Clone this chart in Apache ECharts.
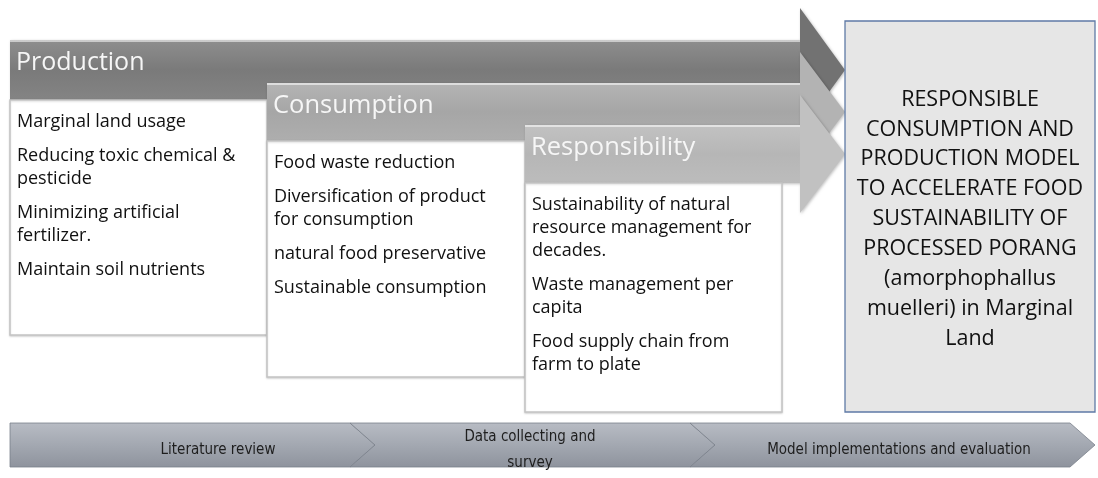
<!DOCTYPE html>
<html>
<head>
<meta charset="utf-8">
<script src="https://cdn.jsdelivr.net/npm/echarts@6/dist/echarts.min.js"></script>
<style>
  html, body { margin: 0; padding: 0; background: #fff; }
  #chart { width: 1098px; height: 478px; }
</style>
</head>
<body>
<div id="chart"></div>
<script>
const stageTitles = ["Production", "Consumption", "Responsibility"];
const stageItems = [
  [["Marginal land usage"], ["Reducing toxic chemical &", "pesticide"], ["Minimizing artificial", "fertilizer."], ["Maintain soil nutrients"]],
  [["Food waste reduction"], ["Diversification of product", "for consumption"], ["natural food preservative"], ["Sustainable consumption"]],
  [["Sustainability of natural", "resource management for", "decades."], ["Waste management per", "capita"], ["Food supply chain from", "farm to plate"]]
];
const goalLines = ["RESPONSIBLE", "CONSUMPTION AND", "PRODUCTION MODEL", "TO ACCELERATE FOOD", "SUSTAINABILITY OF", "PROCESSED PORANG", "(amorphophallus", "muelleri) in Marginal", "Land"];
const processSteps = [["Literature review"], ["Data collecting and", "survey"], ["Model implementations and evaluation"]];

// layout of the three overlapping arrows and their text boxes
const arrows = [
  { x0: 10, top: 40, bot: 100, headTop: 8, headBot: 132, boxR: 267, boxBot: 335, fill: ["#8e8e8e", "#7a7a7a", "#848484"], head: "#727272", titleSize: 25 },
  { x0: 267, top: 83, bot: 141, headTop: 52, headBot: 172, boxR: 525, boxBot: 377, fill: ["#b4b4b4", "#a6a6a6", "#aeaeae"], head: "#b3b3b3", titleSize: 25.5 },
  { x0: 525, top: 125, bot: 183, headTop: 95, headBot: 213, boxR: 782, boxBot: 412, fill: ["#c2c2c2", "#b6b6b6", "#bcbcbc"], head: "#c1c1c1", titleSize: 25.5 }
];
const headX = 800, tipX = 845;
const bodyFont = "'Open Sans', 'Lato', sans-serif";
const narrowFont = "'Liberation Sans Narrow', 'DejaVu Sans Condensed', sans-serif";

function grad(stops) {
  return {
    type: "linear", x: 0, y: 0, x2: 0, y2: 1,
    colorStops: stops.map((c, i) => ({ offset: i / (stops.length - 1), color: c }))
  };
}

function textEl(text, x, y, size, fill, align, family) {
  return {
    type: "text",
    style: {
      text, x, y, fill,
      font: "normal " + size + "px " + (family || bodyFont),
      textAlign: align || "left", align: align || "left",
      textVerticalAlign: "middle", verticalAlign: "middle"
    }
  };
}

const elements = [];

arrows.forEach((a, i) => {
  const mid = (a.top + a.bot) / 2;
  // arrow body + head
  elements.push({
    type: "polygon",
    shape: { points: [[a.x0, a.top], [headX, a.top], [headX, a.headTop], [tipX, mid], [headX, a.headBot], [headX, a.bot], [a.x0, a.bot]] },
    style: { fill: a.head, shadowBlur: 3, shadowColor: "rgba(0,0,0,0.25)", shadowOffsetX: 1, shadowOffsetY: 1 }
  });
  elements.push({
    type: "rect",
    shape: { x: a.x0, y: a.top, width: headX - a.x0, height: a.bot - a.top },
    style: { fill: grad(a.fill) }
  });
  elements.push({
    type: "polyline",
    shape: { points: [[a.x0, a.top + 1], [headX, a.top + 1]] },
    style: { stroke: "rgba(255,255,255,0.55)", lineWidth: 2 }
  });
  elements.push(textEl(stageTitles[i], a.x0 + 6, a.top + 23, a.titleSize, "#f6f6f6"));

  // text box under the arrow
  elements.push({
    type: "rect",
    shape: { x: a.x0, y: a.bot, width: a.boxR - a.x0, height: a.boxBot - a.bot },
    style: { fill: "#ffffff", stroke: "#c4c4c4", lineWidth: 1.5, shadowBlur: 2, shadowColor: "rgba(0,0,0,0.15)", shadowOffsetY: 1 }
  });
  let y = a.bot + 21.5;
  stageItems[i].forEach((para) => {
    para.forEach((line, k) => {
      elements.push(textEl(line, a.x0 + 7, y, 18, "#111111"));
      if (k < para.length - 1) y += 23;
    });
    y += 34;
  });
});

// goal box on the right
elements.push({
  type: "rect",
  shape: { x: 845, y: 21, width: 250, height: 391 },
  style: { fill: "#e6e6e6", stroke: "#5f7aa6", lineWidth: 1.3 }
});
goalLines.forEach((line, i) => {
  elements.push(textEl(line, 970, 99.5 + i * 29.9, 21.5, "#111111", "center"));
});

// process banner at the bottom
const bandTop = 423, bandBot = 467, bandMid = 445, notch = 25;
const cuts = [10, 350, 690, 1070];
const stepCenters = [218, 530, 899];
processSteps.forEach((step, i) => {
  const l = cuts[i], r = cuts[i + 1];
  const pts = [[l, bandTop], [r, bandTop], [r + notch, bandMid], [r, bandBot], [l, bandBot]];
  if (i > 0) pts.push([l + notch, bandMid]);
  elements.push({
    type: "polygon",
    shape: { points: pts },
    style: { fill: grad(["#b8bcc4", "#a3a8b1", "#8e939d"]), stroke: "#7a808a", lineWidth: 0.8 }
  });
  step.forEach((line, k) => {
    const ty = step.length === 1 ? 450 : 437 + k * 26;
    elements.push(textEl(line, stepCenters[i], ty, 15, "#1e1e1e", "center", narrowFont));
  });
});

const chart = echarts.init(document.getElementById("chart"));
chart.setOption({
  animation: false,
  graphic: { elements }
});
</script>
</body>
</html>
